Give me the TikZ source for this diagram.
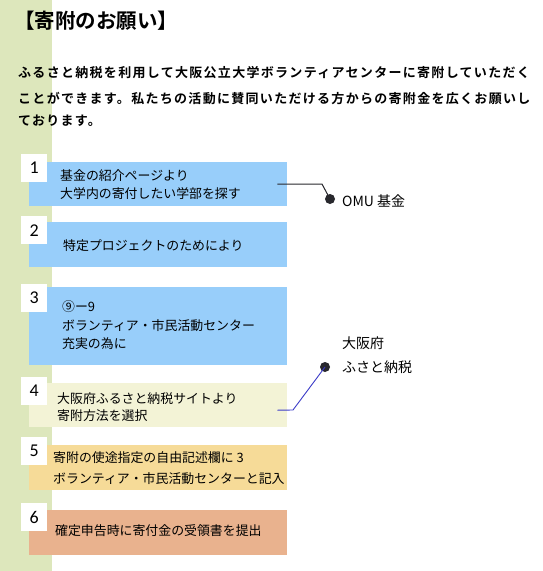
\documentclass[tikz,border=0pt]{standalone}
\usepackage{fontspec}
\newfontfamily\jp{Noto Sans CJK JP}
\newfontfamily\jpb{Noto Sans CJK JP Bold}
\newfontfamily\numf{Carlito}
\definecolor{stripgreen}{RGB}{221,231,188}
\definecolor{boxblue}{RGB}{152,206,250}
\definecolor{boxpale}{RGB}{243,243,214}
\definecolor{boxyellow}{RGB}{246,219,152}
\definecolor{boxsalmon}{RGB}{233,178,142}
\definecolor{linkblue}{RGB}{60,60,200}
\definecolor{dotgray}{RGB}{40,40,45}
\tikzset{
  stepbox/.style={anchor=north west, inner sep=0pt, minimum width=258pt, minimum height=44pt},
  numbox/.style={anchor=north west, fill=white, inner sep=0pt, minimum width=26pt, minimum height=28pt, font=\numf\fontsize{18}{18}\selectfont},
  boxtext/.style={anchor=west, inner sep=0pt, font=\jp\fontsize{12.9}{14}\selectfont},
  paratext/.style={anchor=west, inner sep=0pt, font=\jpb\fontsize{13}{15}\selectfont\addfontfeatures{LetterSpace=10}},
  labeltext/.style={anchor=west, inner sep=0pt, font=\jp\fontsize{14}{16}\selectfont},
  dot/.style={circle, fill=dotgray, inner sep=0pt, minimum size=10pt}
}
\begin{document}
\begin{tikzpicture}[x=1pt, y=-1pt]
\useasboundingbox (0,0) rectangle (543,571);
\fill[white] (0,0) rectangle (543,571);
% green strip
\fill[stripgreen] (0,0) rectangle (52,571);

% title and paragraph
\node[anchor=west, inner sep=0pt, font=\jpb\fontsize{20.5}{22}\selectfont] (title) at (14,21) {【寄附のお願い】};
\node[paratext] (p1) at (18,73) {ふるさと納税を利用して大阪公立大学ボランティアセンターに寄附していただく};
\node[paratext] (p2) at (18,98) {ことができます。私たちの活動に賛同いただける方からの寄附金を広くお願いし};
\node[paratext] (p3) at (18,121) {ております。};

% step boxes
\node[stepbox, fill=boxblue] (b1) at (29,162) {};
\node[stepbox, fill=boxblue, minimum height=45pt] (b2) at (29,222) {};
\node[stepbox, fill=boxblue, minimum height=78pt] (b3) at (29,287) {};
\node[stepbox, fill=boxpale] (b4) at (29,383) {};
\node[stepbox, fill=boxyellow, minimum height=45pt] (b5) at (29,445) {};
\node[stepbox, fill=boxsalmon, minimum height=45pt] (b6) at (29,510) {};

% number boxes
\node[numbox] (n1) at (21,154) {1};
\node[numbox] (n2) at (21,216) {2};
\node[numbox] (n3) at (21,284) {3};
\node[numbox] (n4) at (21,377) {4};
\node[numbox] (n5) at (21,437) {5};
\node[numbox] (n6) at (21,503) {6};

% box texts
\node[boxtext] (t1a) at (60,176) {基金の紹介ページより};
\node[boxtext] (t1b) at (60,194) {大学内の寄付したい学部を探す};
\node[boxtext] (t2) at (63,246) {特定プロジェクトのためにより};
\node[boxtext] (t3a) at (62,307) {⑨ー9};
\node[boxtext] (t3b) at (62,326) {ボランティア・市民活動センター};
\node[boxtext] (t3c) at (62,344) {充実の為に};
\node[boxtext] (t4a) at (57,399) {大阪府ふるさと納税サイトより};
\node[boxtext] (t4b) at (57,416) {寄附方法を選択};
\node[boxtext] (t5a) at (53,458) {寄附の使途指定の自由記述欄に 3};
\node[boxtext] (t5b) at (53,479) {ボランティア・市民活動センターと記入};
\node[boxtext] (t6) at (55,531) {確定申告時に寄付金の受領書を提出};

% side labels and dots
\node[dot] (d1) at (330,199) {};
\node[labeltext] (l1) at (342,201) {OMU 基金};
\node[dot] (d2) at (325,367) {};
\node[labeltext] (l2a) at (342,343) {大阪府};
\node[labeltext] (l2b) at (342,367) {ふさと納税};

\coordinate (k1) at (322,184);
\coordinate (k2) at (293,410);
\draw[line width=1pt, dotgray] ([xshift=-10pt]b1.east) -- (k1) -- (d1.center);
\draw[line width=0.9pt, linkblue] ([xshift=-10pt,yshift=-5pt]b4.east) -- (k2) -- (d2.center);
\end{tikzpicture}
\end{document}
